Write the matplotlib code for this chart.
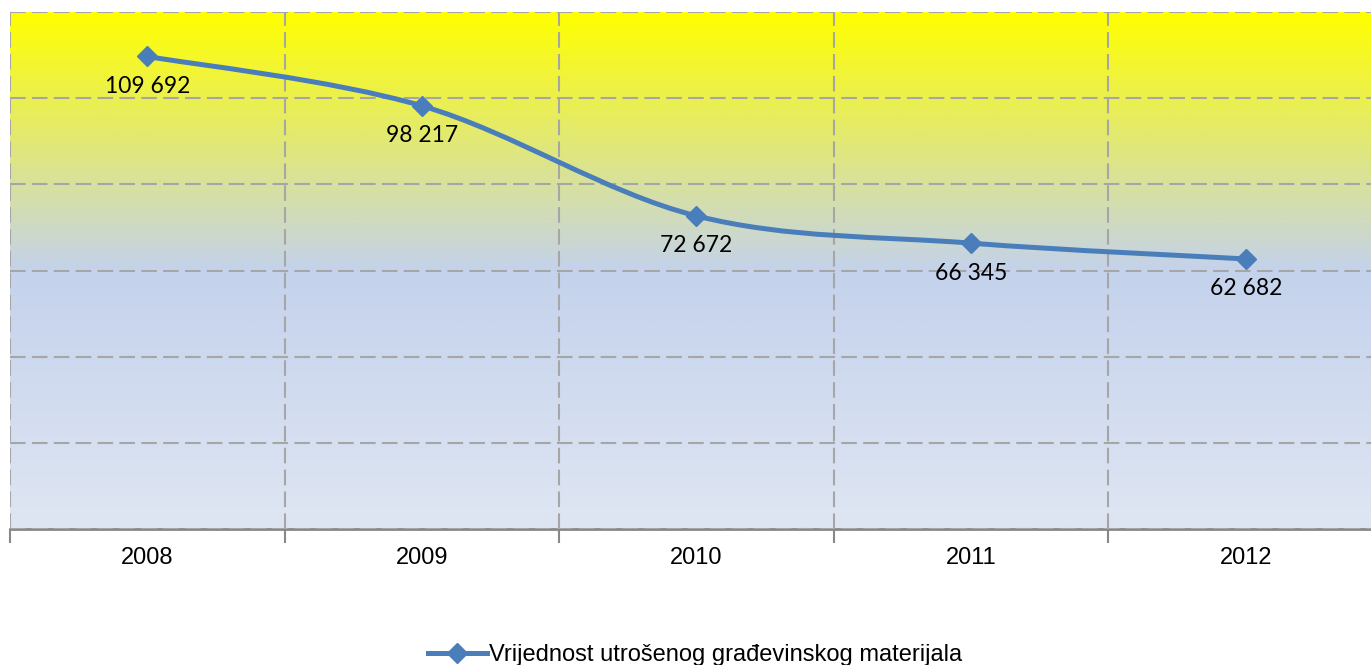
import numpy as np
import matplotlib
matplotlib.use("Agg")
import matplotlib.pyplot as plt
from matplotlib.path import Path
from matplotlib.patches import PathPatch
from matplotlib.lines import Line2D
from matplotlib.colors import LinearSegmentedColormap

years = ["2008", "2009", "2010", "2011", "2012"]
values = [109692, 98217, 72672, 66345, 62682]
labels = ["109 692", "98 217", "72 672", "66 345", "62 682"]
series_name = "Vrijednost utrošenog građevinskog materijala"

line_color = "#4A7EBB"
grid_color = "#A6A6A6"

fig = plt.figure(figsize=(13.71, 6.65), dpi=100)
ax = fig.add_axes([10 / 1371, 1 - 529 / 665, 1373 / 1371, 517 / 665])

# gradient background of the plot area
cmap = LinearSegmentedColormap.from_list(
    "bg", [(0.0, "#DFE6F3"), (0.5, "#C4D2EC"), (1.0, "#FFFF00")])
grad = np.linspace(0, 1, 400).reshape(-1, 1)
ax.imshow(grad, cmap=cmap, origin="lower", aspect="auto",
          extent=[0, 1, 0, 1], transform=ax.transAxes, zorder=0)

x = np.arange(len(values))
y = np.array(values, dtype=float)

# smoothed line (bezier through the points, like excel)
pts = np.column_stack([x, y])
ext = np.vstack([pts[0], pts, pts[-1]])
verts = [tuple(pts[0])]
codes = [Path.MOVETO]
for i in range(len(pts) - 1):
    p0, p1, p2, p3 = ext[i], ext[i + 1], ext[i + 2], ext[i + 3]
    c1 = p1 + (p2 - p0) / 6
    c2 = p2 - (p3 - p1) / 6
    verts += [tuple(c1), tuple(c2), tuple(p2)]
    codes += [Path.CURVE4] * 3
ax.add_patch(PathPatch(Path(verts, codes), fill=False, edgecolor=line_color,
                       lw=3.6, zorder=3, capstyle="round", joinstyle="round"))
ax.plot(x, y, linestyle="none", marker="D", markersize=10,
        color=line_color, zorder=4)

for xi, yi, lab in zip(x, y, labels):
    ax.annotate(lab, (xi, yi), xytext=(0, -14), textcoords="offset points",
                ha="center", va="top", fontsize=16.5, family="Lato", zorder=5)

ax.set_xlim(-0.5, 4.5)
ax.set_ylim(0, 120000)
ax.set_yticks(np.arange(0, 120001, 20000))
ax.set_xticks(np.arange(-0.5, 5, 1))
ax.set_xticks(x, minor=True)
ax.set_xticklabels([])
ax.set_xticklabels(years, minor=True, fontsize=17, family="Liberation Sans")
ax.tick_params(axis="x", which="major", length=10, width=1.5, color="#888888",
               direction="out")
ax.tick_params(axis="x", which="minor", length=0, pad=13)
ax.tick_params(axis="y", length=0, labelleft=False)

ax.grid(True, which="major", color=grid_color, lw=1.5,
        linestyle=(0, (7.5, 3)), zorder=1)
ax.set_axisbelow(False)
for s in ["left", "right", "top"]:
    ax.spines[s].set_visible(False)
ax.spines["bottom"].set_color("#888888")
ax.spines["bottom"].set_linewidth(2)
ax.spines["bottom"].set_zorder(2)

handle = Line2D([], [], color=line_color, lw=3.6, marker="D", markersize=10)
fig.legend([handle], [series_name], loc="center", bbox_to_anchor=(695 / 1371, 1 - 655 / 665),
           frameon=False, handlelength=2.5, handletextpad=0.1,
           prop={"family": "Liberation Sans", "size": 17})

fig.savefig("out.png", dpi=100)
